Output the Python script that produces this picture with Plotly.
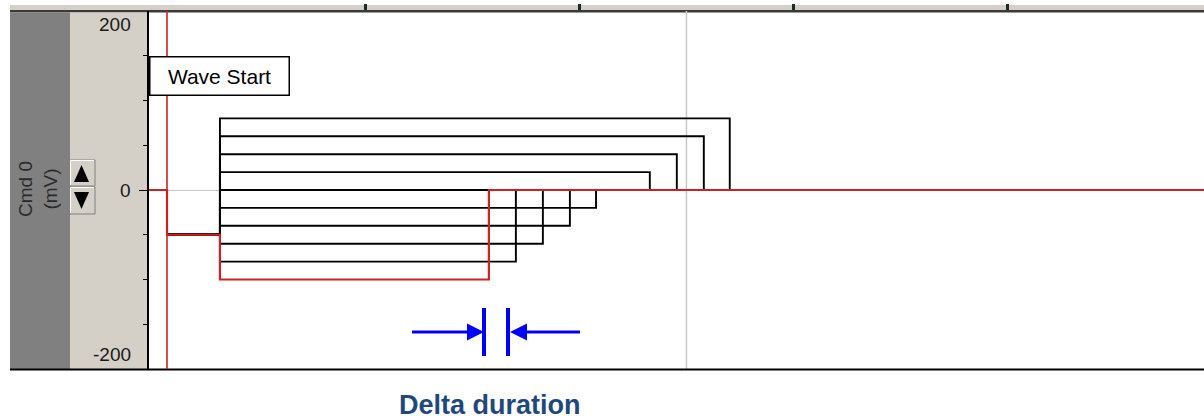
import plotly.graph_objects as go

# ---------------- data ----------------
step_levels_mv = [-100, -80, -60, -40, -20, 0, 20, 40, 60, 80]
step_end_ms = [157.8, 170.4, 183.0, 195.6, 207.8, 220.3, 232.9, 245.5, 258.1, 270.2]
baseline_mv = 0
holding_mv = -50
wave_start_ms = 7.6
step_start_ms = 32.3
x_range_ms = [-0.8, 491.5]
y_range_mv = [-200, 200]
y_label_vals = [200, 0, -200]
y_label_text = ["200", "0", "-200"]
y_minor_ticks = [-150, -100, -50, 50, 100, 150]
top_tick_ms = [100, 200, 300, 400]
grid_ms = [250]
highlight_index = 0  # first sweep drawn in red

# ---------------- layout helpers (pixel -> paper) ----------------
W, H = 1204, 420
PL, PR, PT, PB = 149, 1204, 11, 369


def px(x):
    return (x - PL) / (PR - PL)


def py(y):
    return (PB - y) / (PB - PT)


def path(points):
    s = "M " + " L ".join(f"{px(a):.5f},{py(b):.5f}" for a, b in points) + " Z"
    return s


RED = "#cc2222"
BLACK = "#000000"

fig = go.Figure()

# black sweeps first, then the highlighted red one on top
order = [i for i in range(len(step_levels_mv)) if i != highlight_index] + [highlight_index]
for i in order:
    xs = [x_range_ms[0], wave_start_ms, step_start_ms, step_end_ms[i], x_range_ms[1]]
    ys = [baseline_mv, holding_mv, step_levels_mv[i], baseline_mv, baseline_mv]
    fig.add_trace(go.Scatter(
        x=xs, y=ys, mode="lines", line_shape="hv",
        line=dict(color=RED if i == highlight_index else BLACK,
                  width=2.2 if i == highlight_index else 1.9),
        hoverinfo="skip", showlegend=False,
    ))

shapes = []
# top strip
shapes.append(dict(type="rect", xref="paper", yref="paper", x0=px(10), x1=px(1204), y0=py(10), y1=py(5),
                   fillcolor="#d4d0c8", line=dict(width=0), layer="below"))
shapes.append(dict(type="rect", xref="paper", yref="paper", x0=px(10), x1=px(1204), y0=py(12.5), y1=py(10),
                   fillcolor="#3a3a3a", line=dict(width=0), layer="below"))
# left panels
shapes.append(dict(type="rect", xref="paper", yref="paper", x0=px(10), x1=px(70), y0=py(369), y1=py(12.5),
                   fillcolor="#808080", line=dict(width=0), layer="below"))
shapes.append(dict(type="rect", xref="paper", yref="paper", x0=px(70), x1=px(148), y0=py(369), y1=py(12.5),
                   fillcolor="#d4d0c8", line=dict(width=0), layer="below"))
# bottom line
shapes.append(dict(type="line", xref="paper", yref="paper", x0=px(10), x1=px(1204), y0=py(369.5), y1=py(369.5),
                   line=dict(color="#000000", width=2)))
# buttons
for (y0, y1) in [(160, 186), (187, 214)]:
    shapes.append(dict(type="rect", xref="paper", yref="paper", x0=px(70), x1=px(95), y0=py(y1), y1=py(y0),
                       fillcolor="#d4d0c8", line=dict(color="#808080", width=1)))
    shapes.append(dict(type="line", xref="paper", yref="paper", x0=px(70.5), x1=px(94), y0=py(y0 + 0.5), y1=py(y0 + 0.5),
                       line=dict(color="#ffffff", width=1)))
    shapes.append(dict(type="line", xref="paper", yref="paper", x0=px(70.5), x1=px(70.5), y0=py(y0 + 0.5), y1=py(y1 - 1),
                       line=dict(color="#ffffff", width=1)))
shapes.append(dict(type="path", xref="paper", yref="paper", path=path([(74, 182), (81.5, 165), (89, 182)]),
                   fillcolor="#000000", line=dict(width=0)))
shapes.append(dict(type="path", xref="paper", yref="paper", path=path([(74, 192), (89, 192), (81.5, 209)]),
                   fillcolor="#000000", line=dict(width=0)))
# wave start cursor
shapes.append(dict(type="line", xref="x", yref="paper", x0=wave_start_ms, x1=wave_start_ms, y0=0, y1=1,
                   line=dict(color=RED, width=1.6)))
# grid line
for g in grid_ms:
    shapes.append(dict(type="line", xref="x", yref="paper", x0=g, x1=g, y0=0, y1=1,
                       line=dict(color="#c8c8c8", width=1.5), layer="below"))
# small marker on left edge
shapes.append(dict(type="rect", xref="paper", yref="paper", x0=px(148), x1=px(151.5), y0=py(95), y1=py(67),
                   fillcolor="#000000", line=dict(width=0)))
# blue delta-duration arrows
BLUE = "#0000ff"
shapes += [
    dict(type="line", xref="paper", yref="paper", x0=px(412), x1=px(472), y0=py(332), y1=py(332),
         line=dict(color=BLUE, width=3)),
    dict(type="path", xref="paper", yref="paper", path=path([(467, 323.5), (484, 332), (467, 340.5)]),
         fillcolor=BLUE, line=dict(width=0)),
    dict(type="rect", xref="paper", yref="paper", x0=px(482), x1=px(486), y0=py(356), y1=py(308),
         fillcolor=BLUE, line=dict(width=0)),
    dict(type="rect", xref="paper", yref="paper", x0=px(506), x1=px(510), y0=py(356), y1=py(308),
         fillcolor=BLUE, line=dict(width=0)),
    dict(type="path", xref="paper", yref="paper", path=path([(527, 323.5), (510, 332), (527, 340.5)]),
         fillcolor=BLUE, line=dict(width=0)),
    dict(type="line", xref="paper", yref="paper", x0=px(522), x1=px(580), y0=py(332), y1=py(332),
         line=dict(color=BLUE, width=3)),
]

annotations = []
label_shift = {200: -13, 0: 0, -200: 15}
for v, t in zip(y_label_vals, y_label_text):
    annotations.append(dict(x=0, xref="paper", y=v, yref="y", xanchor="right", yanchor="middle",
                            xshift=-16, yshift=label_shift[v], text=t, showarrow=False,
                            font=dict(family="Liberation Sans, Arial", size=19, color="#1a1a1a")))
annotations.append(dict(x=px(38), y=py(189), xref="paper", yref="paper", text="Cmd 0<br>(mV)",
                        textangle=-90, showarrow=False, xanchor="center", yanchor="middle",
                        font=dict(family="Liberation Sans, Arial", size=19, color="#2a2a2a")))
annotations.append(dict(x=px(149), y=py(76.5), xref="paper", yref="paper", text="Wave Start",
                        xanchor="left", yanchor="middle", showarrow=False, bgcolor="#ffffff",
                        bordercolor="#000000", borderwidth=1.5, borderpad=1, width=136, height=35,
                        align="center", font=dict(family="Liberation Sans, Arial", size=21, color="#000000")))
annotations.append(dict(x=px(490), y=py(405), xref="paper", yref="paper", text="<b>Delta duration</b>",
                        xanchor="center", yanchor="middle", showarrow=False,
                        font=dict(family="Liberation Sans, Arial", size=27, color="#1f497d")))

fig.update_layout(
    width=W, height=H, autosize=False,
    margin=dict(l=PL, r=W - PR, t=PT, b=H - PB, pad=0),
    paper_bgcolor="#ffffff", plot_bgcolor="#ffffff",
    shapes=shapes, annotations=annotations, showlegend=False,
    xaxis=dict(range=x_range_ms, side="top", tickvals=top_tick_ms, ticks="outside", ticklen=6,
               tickwidth=3, tickcolor="#1a2e22", showticklabels=False, showgrid=False,
               zeroline=False, showline=False, fixedrange=True),
    yaxis=dict(range=y_range_mv, tickvals=[0], ticks="outside", ticklen=8, tickcolor="#000000",
               tickwidth=1, showticklabels=False, showgrid=False, zeroline=True,
               zerolinecolor="#c8c8c8", zerolinewidth=1.2, showline=True, linecolor="#000000",
               linewidth=2, fixedrange=True,
               minor=dict(tickvals=y_minor_ticks, ticks="outside", ticklen=4, tickcolor="#000000",
                          tickwidth=1, showgrid=False)),
)

fig.write_html("out.html", config={"displayModeBar": False},
               post_script="document.body.style.margin='0';document.body.style.overflow='hidden';")
